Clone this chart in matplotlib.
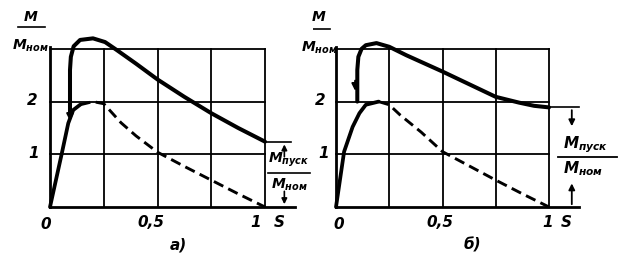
import matplotlib
matplotlib.use("Agg")
import matplotlib.pyplot as plt

plt.rcParams['font.family'] = ['DejaVu Sans']
plt.rcParams['mathtext.fontset'] = 'custom'
plt.rcParams['mathtext.it'] = 'DejaVu Sans:italic:bold'
plt.rcParams['mathtext.rm'] = 'DejaVu Sans:italic:bold'
plt.rcParams['mathtext.default'] = 'it'

# grid / ticks
grid_x = [0.25, 0.5, 0.75, 1.0]
grid_y = [1, 2, 3]

# panel a)
a_rise_x = [0, 0.054, 0.085, 0.108, 0.14]
a_rise_y = [0, 1.0, 1.59, 1.84, 1.94]
a_dash_x = [0.14, 0.2, 0.25, 0.33, 0.4, 0.5, 0.625, 0.75, 0.875, 1.0]
a_dash_y = [1.94, 2.0, 1.96, 1.6, 1.35, 1.04, 0.77, 0.51, 0.25, 0.0]
a_top_x = [0.093, 0.093, 0.097, 0.11, 0.14, 0.2, 0.256, 0.31, 0.4, 0.5, 0.625, 0.75, 0.875, 1.0]
a_top_y = [1.75, 2.6, 2.85, 3.05, 3.17, 3.2, 3.13, 2.98, 2.72, 2.42, 2.09, 1.78, 1.5, 1.24]
a_start = 1.24

# panel б)
b_rise_x = [0, 0.038, 0.078, 0.11, 0.14, 0.2]
b_rise_y = [0, 1.05, 1.52, 1.78, 1.94, 2.0]
b_dash_x = [0.2, 0.25, 0.3, 0.4, 0.5, 0.625, 0.75, 0.875, 1.0]
b_dash_y = [2.0, 1.94, 1.75, 1.42, 1.05, 0.78, 0.51, 0.25, 0.0]
b_top_x = [0.1, 0.1, 0.105, 0.12, 0.14, 0.19, 0.25, 0.33, 0.5, 0.625, 0.75, 0.86, 0.93, 1.0]
b_top_y = [2.0, 2.6, 2.85, 3.0, 3.07, 3.11, 3.04, 2.88, 2.57, 2.33, 2.09, 1.98, 1.92, 1.89]
b_start = 1.89

W, H = 626, 275
fig = plt.figure(figsize=(W / 100, H / 100), dpi=100)

TXT = dict(fontweight='bold', style='italic', color='black')


def make_ax(px0, px1, x0, sx, y0=207, sy=52.7):
    ax = fig.add_axes([px0 / W, 0, (px1 - px0) / W, 1])
    ax.set_xlim((px0 - x0) / sx, (px1 - x0) / sx)
    yb = H - y0
    ax.set_ylim(-yb / sy, (H - yb) / sy)
    ax.axis('off')
    return ax


def panel(ax, rise_x, rise_y, dash_x, dash_y, top_x, top_y):
    for gx in grid_x:
        ax.plot([gx, gx], [0, 3], color='black', lw=1.3)
    for gy in grid_y:
        ax.plot([0, 1], [gy, gy], color='black', lw=1.3)
    ax.plot([0, 0], [0, 3.03], color='black', lw=2.0)
    ax.plot([0, 1.14], [0, 0], color='black', lw=2.0)
    ax.plot(rise_x, rise_y, color='black', lw=2.7, solid_capstyle='round')
    ax.plot(dash_x, dash_y, color='black', lw=2.1, linestyle=(0, (3.6, 1.9)))
    ax.plot(top_x, top_y, color='black', lw=2.9, solid_capstyle='round')


ax1 = make_ax(0, 313, 50, 215)
panel(ax1, a_rise_x, a_rise_y, a_dash_x, a_dash_y, a_top_x, a_top_y)
ax1.annotate('', xy=(0.093, 1.58), xytext=(0.093, 1.9),
             arrowprops=dict(arrowstyle='-|>', color='black', lw=1.5, mutation_scale=10))
ax1.plot([1.0, 1.12], [a_start, a_start], color='black', lw=1.2)
ax1.annotate('', xy=(1.09, a_start), xytext=(1.09, 0.9),
             arrowprops=dict(arrowstyle='-|>', color='black', lw=1.2, mutation_scale=8))
ax1.annotate('', xy=(1.09, 0.0), xytext=(1.09, 0.35),
             arrowprops=dict(arrowstyle='-|>', color='black', lw=1.2, mutation_scale=8))
ax1.text(1.11, 0.89, r'$M_{пуск}$', fontsize=10, ha='center', va='center', **TXT)
ax1.plot([1.014, 1.21], [0.645, 0.645], color='black', lw=1.2, clip_on=False)
ax1.text(1.115, 0.42, r'$M_{ном}$', fontsize=10, ha='center', va='center', **TXT)

ax1.text(-0.084, 2.03, '2', fontsize=11, ha='center', va='center', **TXT)
ax1.text(-0.075, 1.02, '1', fontsize=11, ha='center', va='center', **TXT)
ax1.text(-0.02, -0.34, '0', fontsize=11, ha='center', va='center', **TXT)
ax1.text(0.47, -0.3, '0,5', fontsize=11, ha='center', va='center', **TXT)
ax1.text(0.955, -0.3, '1', fontsize=11, ha='center', va='center', **TXT)
ax1.text(1.065, -0.3, 'S', fontsize=11, ha='center', va='center', **TXT)
ax1.text(0.595, -0.72, 'а)', fontsize=11, ha='center', va='center', **TXT)
ax1.text(-0.09, 3.6, 'M', fontsize=10, ha='center', va='center', **TXT)
ax1.plot([-0.15, -0.023], [3.42, 3.42], color='black', lw=1.2)
ax1.text(-0.09, 3.05, r'$M_{ном}$', fontsize=10, ha='center', va='center', **TXT)

ax2 = make_ax(313, 626, 336, 213)
panel(ax2, b_rise_x, b_rise_y, b_dash_x, b_dash_y, b_top_x, b_top_y)
ax2.annotate('', xy=(0.09, 2.15), xytext=(0.09, 2.45),
             arrowprops=dict(arrowstyle='-|>', color='black', lw=1.5, mutation_scale=10))
ax2.plot([1.0, 1.14], [b_start, b_start], color='black', lw=1.2)
ax2.annotate('', xy=(1.107, 1.48), xytext=(1.107, b_start),
             arrowprops=dict(arrowstyle='-|>', color='black', lw=1.3, mutation_scale=9))
ax2.annotate('', xy=(1.107, 0.5), xytext=(1.107, 0.0),
             arrowprops=dict(arrowstyle='-|>', color='black', lw=1.3, mutation_scale=9))
ax2.text(1.17, 1.18, r'$M_{пуск}$', fontsize=11, ha='center', va='center', **TXT)
ax2.plot([1.04, 1.32], [0.95, 0.95], color='black', lw=1.3, clip_on=False)
ax2.text(1.16, 0.72, r'$M_{ном}$', fontsize=11, ha='center', va='center', **TXT)

ax2.text(-0.075, 2.03, '2', fontsize=11, ha='center', va='center', **TXT)
ax2.text(-0.06, 1.02, '1', fontsize=11, ha='center', va='center', **TXT)
ax2.text(0.014, -0.34, '0', fontsize=11, ha='center', va='center', **TXT)
ax2.text(0.49, -0.3, '0,5', fontsize=11, ha='center', va='center', **TXT)
ax2.text(0.995, -0.3, '1', fontsize=11, ha='center', va='center', **TXT)
ax2.text(1.08, -0.3, 'S', fontsize=11, ha='center', va='center', **TXT)
ax2.text(0.64, -0.72, 'б)', fontsize=11, ha='center', va='center', **TXT)
ax2.text(-0.08, 3.6, 'M', fontsize=10, ha='center', va='center', **TXT)
ax2.plot([-0.146, -0.028], [3.38, 3.38], color='black', lw=1.2)
ax2.text(-0.08, 3.02, r'$M_{ном}$', fontsize=10, ha='center', va='center', **TXT)

fig.savefig('out.png', dpi=100, facecolor='white')
